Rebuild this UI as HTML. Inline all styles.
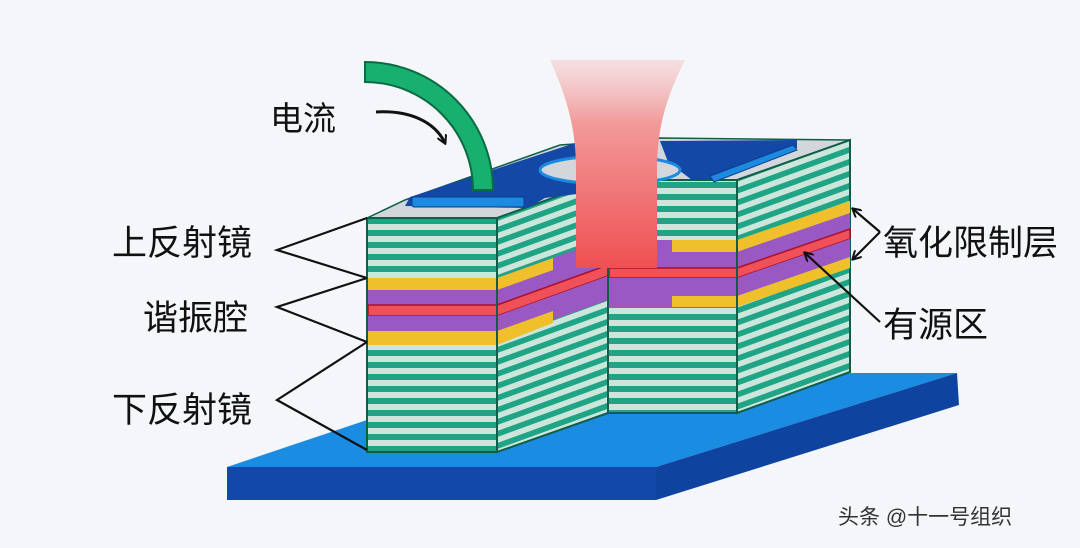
<!DOCTYPE html>
<html><head><meta charset="utf-8"><style>
html,body{margin:0;padding:0;background:#f4f6f9;}
svg{display:block}
text{font-family:"Liberation Sans","Noto Sans CJK SC",sans-serif;fill:#111;}
</style></head><body>
<svg width="1080" height="548" viewBox="0 0 1080 548" xmlns="http://www.w3.org/2000/svg">
<defs>
<pattern id="sf" patternUnits="userSpaceOnUse" width="20" height="12" y="218">
<rect width="20" height="12" fill="#1fa586"/><rect y="6" width="20" height="6" fill="#cde6dc"/>
</pattern>
<pattern id="ss" patternUnits="userSpaceOnUse" width="20" height="12" patternTransform="skewY(-20)">
<rect width="20" height="12" fill="#1fa586"/><rect y="6" width="20" height="6" fill="#cde6dc"/>
</pattern>
<linearGradient id="beam" x1="0" y1="60" x2="0" y2="268" gradientUnits="userSpaceOnUse">
<stop offset="0" stop-color="#f4c8c8" stop-opacity="0.5"/>
<stop offset="0.3" stop-color="#f29a9a"/>
<stop offset="1" stop-color="#ef5052"/>
</linearGradient>
<marker id="ah" markerWidth="10" markerHeight="10" refX="8" refY="5" orient="auto" markerUnits="userSpaceOnUse">
<path d="M0,0 L9,5 L0,10" fill="none" stroke="#111" stroke-width="2"/>
</marker>
</defs>
<rect width="1080" height="548" fill="#f4f6f9"/>

<!-- substrate -->
<polygon points="227,467 656,467 957,373 850,373 367,420" fill="#1a8ce2"/>
<polygon points="227,467 656,467 656,500 227,500" fill="#1148aa"/>
<polygon points="656,467 957,373 959,405 656,500" fill="#0f43a0"/>

<!-- top gray surface -->
<polygon points="367,218 497,218 608,180 737,180 850,140 660,138 560,145 405,200" fill="#d3d7dc" stroke="#0e5e4a" stroke-width="1.5"/>

<!-- faces -->
<polygon points="367,218 497,218 497,452 367,452" fill="url(#sf)" stroke="#0e5e4a" stroke-width="2"/>
<polygon points="497,218 608,178 608,413 497,452" fill="url(#ss)" stroke="#0e5e4a" stroke-width="2"/>
<polygon points="608,180 737,180 737,413 608,413" fill="url(#sf)" stroke="#0e5e4a" stroke-width="2"/>
<polygon points="737,180 850,140 850,372 737,413" fill="url(#ss)" stroke="#0e5e4a" stroke-width="2"/>

<!-- left front layers -->
<rect x="368" y="278" width="129" height="12" fill="#f0c02c"/>
<rect x="368" y="290" width="129" height="15" fill="#9a58c2"/>
<rect x="368" y="305" width="129" height="11" fill="#f05058" stroke="#a8102c" stroke-width="1.5"/>
<rect x="368" y="316" width="129" height="15" fill="#9a58c2"/>
<rect x="368" y="331" width="129" height="14" fill="#f0c02c"/>
<!-- left side layers -->
<polygon points="497,278 608,238 608,265 497,305" fill="#9a58c2"/>
<polygon points="497,278 553,258 553,270 497,290" fill="#f0c02c"/>
<polygon points="497,305 608,265 608,276 497,316" fill="#f05058" stroke="#a8102c" stroke-width="1.5"/>
<polygon points="497,316 608,276 608,300 497,340" fill="#9a58c2"/>
<polygon points="497,331 553,311 553,323 497,345" fill="#f0c02c"/>
<!-- center layers -->
<rect x="609" y="240" width="128" height="28" fill="#9a58c2"/>
<rect x="672" y="240" width="65" height="12" fill="#f0c02c"/>
<rect x="609" y="268" width="128" height="10" fill="#f05058" stroke="#a8102c" stroke-width="1.5"/>
<rect x="609" y="278" width="128" height="29" fill="#9a58c2"/>
<rect x="672" y="296" width="65" height="11" fill="#f0c02c"/>
<!-- right side layers -->
<polygon points="737,240 850,201 850,213 737,252" fill="#f0c02c"/>
<polygon points="737,252 850,213 850,229 737,268" fill="#9a58c2"/>
<polygon points="737,268 850,229 850,239 737,278" fill="#f05058" stroke="#a8102c" stroke-width="1.5"/>
<polygon points="737,278 850,239 850,257 737,296" fill="#9a58c2"/>
<polygon points="737,296 850,257 850,268 737,307" fill="#f0c02c"/>
<line x1="737" y1="180" x2="737" y2="413" stroke="#0e5e4a" stroke-width="2"/>
<line x1="608" y1="180" x2="608" y2="413" stroke="#0e5e4a" stroke-width="2"/>
<line x1="497" y1="218" x2="497" y2="452" stroke="#0e5e4a" stroke-width="2"/>

<!-- contacts -->
<polygon points="405,206 410,197 575,143 625,143 625,188 545,198 528,208" fill="#1448a6"/>
<polygon points="660,141 797,140 797,148 712,180 692,180 668,162" fill="#1448a6"/>
<ellipse cx="610" cy="170" rx="70" ry="14" fill="#d3d7dc" stroke="#1b8ae0" stroke-width="3"/>
<rect x="412" y="197" width="112" height="10" rx="2" fill="#1b8ae0" stroke="#0d3d8a" stroke-width="1"/>
<polygon points="710,176 793,145 797,150 714,182" fill="#1b8ae0" stroke="#0d3d8a" stroke-width="1"/>

<!-- beam -->
<path d="M550,60 L685,60 C665,100 657,130 657,170 L657,268 L576,268 L576,170 C576,130 568,100 550,60 Z" fill="url(#beam)"/>

<!-- green wire -->
<path d="M365,62 A128,128 0 0 1 493,190 L473,190 A108,108 0 0 0 365,82 Z" fill="#17b06f" stroke="#0c6b44" stroke-width="2"/>

<!-- arrow to wire -->
<path d="M376,112 C410,110 435,122 445,143" fill="none" stroke="#111" stroke-width="3" marker-end="url(#ah)"/>

<!-- brackets -->
<g fill="none" stroke="#111" stroke-width="2.2">
<polyline points="367,218 277,250 367,278"/>
<polyline points="367,278 277,307 367,342"/>
<polyline points="367,342 277,400 367,450"/>
<line x1="880" y1="232" x2="853" y2="209" marker-end="url(#ah)"/>
<line x1="880" y1="232" x2="853" y2="259" marker-end="url(#ah)"/>
<line x1="880" y1="322" x2="805" y2="253" marker-end="url(#ah)"/>
</g>

<!-- labels -->
<text x="270" y="130" font-size="33">电流</text>
<text x="112" y="255" font-size="35">上反射镜</text>
<text x="143" y="330" font-size="35">谐振腔</text>
<text x="112" y="422" font-size="35">下反射镜</text>
<text x="883" y="255" font-size="35">氧化限制层</text>
<text x="883" y="337" font-size="35">有源区</text>
<text x="838" y="524" font-size="21" style="fill:#333">头条 @十一号组织</text>
</svg>
</body></html>
